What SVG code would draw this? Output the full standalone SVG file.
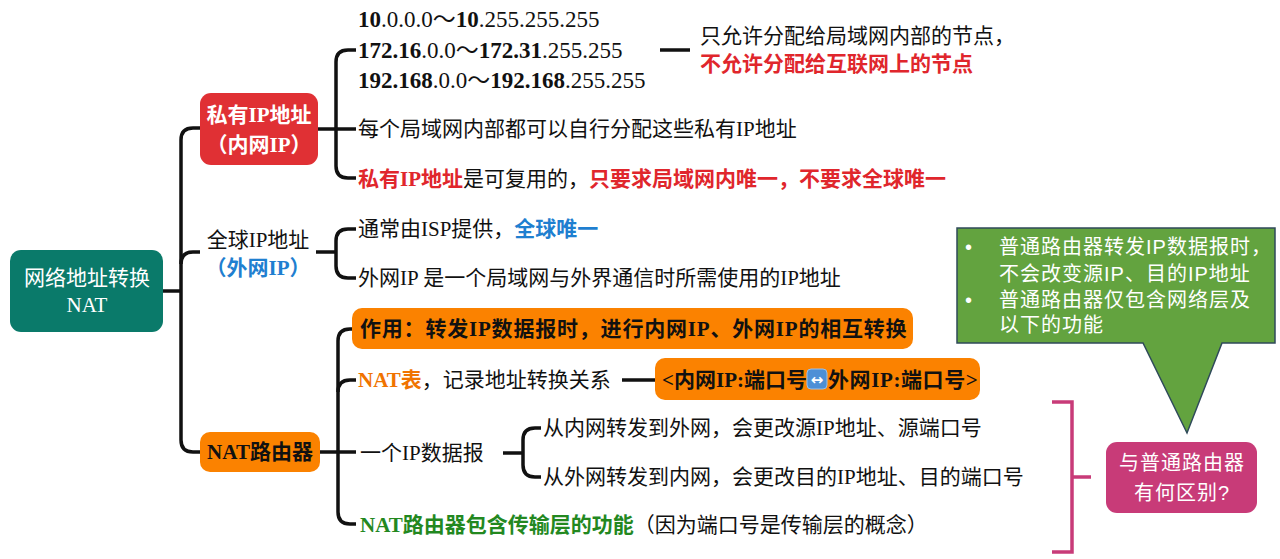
<svg xmlns="http://www.w3.org/2000/svg" width="1280" height="559" viewBox="0 0 1280 559">
<style>
.t{font-family:"Liberation Serif","Noto Sans CJK SC",serif;font-size:21px;fill:#111}
.rg{font-size:23px}
.b{font-weight:bold}
.w{fill:#fff}
.red{fill:#e0262c}
.blue{fill:#1f7fd0}
.grn{fill:#23881f}
.org{fill:#f07300}
.c{text-anchor:middle}
.call{font-family:"Liberation Sans","Noto Sans CJK SC",sans-serif;font-size:20px;fill:#fff;letter-spacing:1px}
.ln{fill:none;stroke:#111;stroke-width:3.5;stroke-linecap:butt}
.pk{fill:none;stroke:#c83b78;stroke-width:3.5}
</style>
<rect width="1280" height="559" fill="#fff"/>

<g id="connectors">
<path class="ln" d="M163,291 H181"/>
<path class="ln" d="M200,128 H193 Q181,128 181,140 V440 Q181,452 193,452 H200"/>
<path class="ln" d="M181,264 Q181,252 193,252 H200"/>
<path class="ln" d="M318,129 H356"/>
<path class="ln" d="M356,50 H348 Q336,50 336,62 V166 Q336,178 348,178 H356"/>
<path class="ln" d="M660,50 H690"/>
<path class="ln" d="M316,252 H336"/>
<path class="ln" d="M356,229 H348 Q336,229 336,241 V266 Q336,278 348,278 H356"/>
<path class="ln" d="M320,452 H356"/>
<path class="ln" d="M352,329 H350 Q338,329 338,341 V512 Q338,524 350,524 H356"/>
<path class="ln" d="M338,392 Q338,380 350,380 H356"/>
<path class="ln" d="M622,380 H655"/>
<path class="ln" d="M503,453 H523"/>
<path class="ln" d="M541,428 H535 Q523,428 523,440 V465 Q523,477 535,477 H541"/>
<path class="pk" d="M1052,402 H1072 V552 H1052 M1072,477 H1091"/>
</g>

<g id="root">
<rect x="10" y="250" width="153" height="82" rx="11" fill="#0a7a6a"/>
<text class="t w c" x="87" y="285">网络地址转换</text>
<text class="t w c" x="87" y="312">NAT</text>
</g>

<g id="private">
<rect x="200" y="93" width="118" height="72" rx="11" fill="#e03034"/>
<text class="t w b c" x="259" y="122">私有IP地址</text>
<text class="t w b c" x="259" y="152">（内网IP）</text>
</g>

<g id="private-ranges">
<text class="t rg" x="358" y="27"><tspan class="b">10</tspan>.0.0.0～<tspan class="b">10</tspan>.255.255.255</text>
<text class="t rg" x="358" y="58"><tspan class="b">172.16</tspan>.0.0～<tspan class="b">172.31</tspan>.255.255</text>
<text class="t rg" x="358" y="88"><tspan class="b">192.168</tspan>.0.0～<tspan class="b">192.168</tspan>.255.255</text>
</g>
<g id="private-note">
<text class="t" x="700" y="43">只允许分配给局域网内部的节点，</text>
<text class="t red b" x="700" y="71">不允许分配给互联网上的节点</text>
</g>
<g id="private-self">
<text class="t" x="358" y="136">每个局域网内部都可以自行分配这些私有IP地址</text>
</g>
<g id="private-reuse">
<text class="t" x="358" y="186"><tspan class="red b">私有IP地址</tspan>是可复用的，<tspan class="red b">只要求局域网内唯一，不要求全球唯一</tspan></text>
</g>

<g id="global">
<text class="t c" x="258" y="247">全球IP地址</text>
<text class="t blue b c" x="258" y="275">（外网IP）</text>
</g>
<g id="global-isp">
<text class="t" x="358" y="236">通常由ISP提供，<tspan class="blue b">全球唯一</tspan></text>
</g>
<g id="global-use">
<text class="t" x="358" y="285">外网IP 是一个局域网与外界通信时所需使用的IP地址</text>
</g>

<g id="nat-router">
<rect x="200" y="432" width="120" height="40" rx="10" fill="#fb8200"/>
<text class="t b c" x="260" y="459">NAT路由器</text>
</g>
<g id="nat-role">
<rect x="352" y="308" width="561" height="41" rx="10" fill="#fb8200"/>
<text class="t b" x="360" y="336" letter-spacing="0.8">作用：转发IP数据报时，进行内网IP、外网IP的相互转换</text>
</g>
<g id="nat-table">
<text class="t" x="358" y="387"><tspan class="org b">NAT表</tspan>，记录地址转换关系</text>
</g>
<g id="nat-table-entry">
<rect x="655" y="358" width="325" height="42" rx="10" fill="#fb8200"/>
<text class="t b" x="662" y="387">&lt;内网IP:端口号</text>
<rect x="807" y="369" width="20" height="20" rx="4" fill="#4d8fd6" stroke="#9cc0e8" stroke-width="1"/>
<text x="817" y="384.5" text-anchor="middle" font-family="DejaVu Sans" font-size="15" font-weight="bold" fill="#fff">↔</text>
<text class="t b" x="828" y="387" letter-spacing="0.6">外网IP:端口号&gt;</text>
</g>
<g id="datagram">
<text class="t" x="360" y="460">一个IP数据报</text>
</g>
<g id="datagram-out">
<text class="t" x="543" y="435">从内网转发到外网，会更改源IP地址、源端口号</text>
</g>
<g id="datagram-in">
<text class="t" x="543" y="484">从外网转发到内网，会更改目的IP地址、目的端口号</text>
</g>
<g id="nat-transport">
<text class="t" x="360" y="532"><tspan class="grn b">NAT路由器包含传输层的功能</tspan>（因为端口号是传输层的概念）</text>
</g>

<g id="callout">
<path d="M957,228 H1275 V343 H1222 L1187,433 L1143,343 H957 Z" fill="#63a33f" stroke="#2f4a5a" stroke-width="1.5"/>
<text class="call" x="965" y="254">•</text>
<text class="call" x="999" y="254">普通路由器转发IP数据报时，</text>
<text class="call" x="999" y="281">不会改变源IP、目的IP地址</text>
<text class="call" x="965" y="307">•</text>
<text class="call" x="999" y="307">普通路由器仅包含网络层及</text>
<text class="call" x="999" y="332">以下的功能</text>
</g>

<g id="question">
<rect x="1106" y="442" width="151" height="71" rx="11" fill="#c83b78"/>
<text class="call c" x="1182" y="470" letter-spacing="0">与普通路由器</text>
<text class="call c" x="1182" y="500" letter-spacing="0">有何区别?</text>
</g>
</svg>
